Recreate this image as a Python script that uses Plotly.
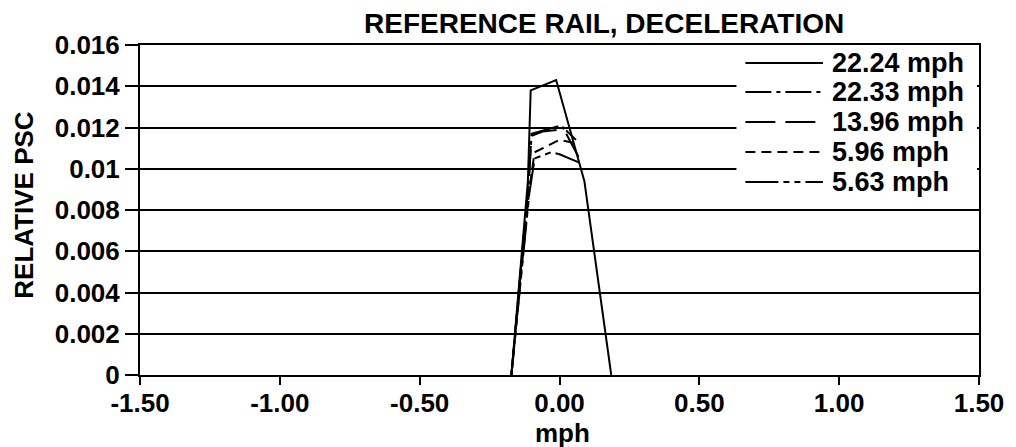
import plotly.graph_objects as go

# Relative PSC versus speed deviation (mph) for each test run
series_names = ["22.24 mph", "22.33 mph", "13.96 mph", "5.96 mph", "5.63 mph"]

x_2224 = [-0.172, -0.113, -0.103, -0.012, 0.089, 0.185]
y_2224 = [0.0, 0.0094, 0.0138, 0.0143, 0.0094, 0.0]

x_2233 = [-0.172, -0.110, -0.100, -0.060, 0.000, 0.012, 0.071]
y_2233 = [0.0, 0.0094, 0.0116, 0.0118, 0.0119, 0.0120, 0.0105]

x_1396 = [-0.172, -0.110, -0.100, -0.050, 0.005, 0.059]
y_1396 = [0.0, 0.0094, 0.0117, 0.0119, 0.0121, 0.0114]

x_596 = [-0.172, -0.108, -0.089, 0.000, 0.071]
y_596 = [0.0, 0.0090, 0.0108, 0.0114, 0.0112]

x_563 = [-0.172, -0.108, -0.089, -0.030, 0.000, 0.071]
y_563 = [0.0, 0.0088, 0.0105, 0.0108, 0.0107, 0.0103]

x_tick_vals = [-1.5, -1.0, -0.5, 0.0, 0.5, 1.0, 1.5]
x_tick_text = ["-1.50", "-1.00", "-0.50", "0.00", "0.50", "1.00", "1.50"]
y_tick_vals = [0, 0.002, 0.004, 0.006, 0.008, 0.010, 0.012, 0.014, 0.016]
y_tick_text = ["0", "0.002", "0.004", "0.006", "0.008", "0.01", "0.012", "0.014", "0.016"]

xs = [x_2224, x_2233, x_1396, x_596, x_563]
ys = [y_2224, y_2233, y_1396, y_596, y_563]
dashes = ["solid", "26px,5px,4px,5px", "30px,10px", "10px,6px", "33px,5px,6px,5px,6px,5px"]

FONT = "Liberation Sans, Arial, Helvetica, sans-serif"
W, H = 1016, 447
L, R, T, B = 140, 32, 45, 72
PW, PH = W - L - R, H - T - B


def px_x(p):
    return (p - L) / PW


def px_y(p):
    return (H - B - p) / PH


fig = go.Figure()
for name, xv, yv, d in zip(series_names, xs, ys, dashes):
    fig.add_trace(go.Scatter(x=xv, y=yv, mode="lines", name=name,
                             line=dict(color="black", width=2, dash=d)))

# Legend block in the upper right corner
shapes = [dict(type="rect", xref="paper", yref="paper",
               x0=px_x(740), x1=px_x(982), y0=px_y(198), y1=px_y(47),
               fillcolor="white", line=dict(width=0), layer="above")]
annotations = []
row_y = [63, 92, 122, 152, 182]
for name, d, ry in zip(series_names, dashes, row_y):
    shapes.append(dict(type="line", xref="paper", yref="paper",
                       x0=px_x(749), x1=px_x(827), y0=px_y(ry), y1=px_y(ry),
                       line=dict(color="black", width=2, dash=d), layer="above"))
    annotations.append(dict(text=name, xref="paper", yref="paper",
                            x=px_x(834), y=px_y(ry), xanchor="left", yanchor="middle",
                            showarrow=False,
                            font=dict(family=FONT, size=27, color="black", weight="bold")))

annotations.append(dict(text="REFERENCE RAIL, DECELERATION", xref="paper", yref="paper",
                        x=px_x(607), y=px_y(24), xanchor="center", yanchor="middle",
                        showarrow=False,
                        font=dict(family=FONT, size=28, color="black", weight="bold")))
annotations.append(dict(text="RELATIVE PSC", xref="paper", yref="paper",
                        x=px_x(23), y=px_y(205), xanchor="center", yanchor="middle",
                        textangle=-90, showarrow=False,
                        font=dict(family=FONT, size=26, color="black", weight="bold")))
annotations.append(dict(text="mph", xref="paper", yref="paper",
                        x=px_x(565), y=px_y(433), xanchor="center", yanchor="middle",
                        showarrow=False,
                        font=dict(family=FONT, size=26, color="black", weight="bold")))

fig.update_layout(
    width=W, height=H,
    margin=dict(l=L, r=R, t=T, b=B),
    plot_bgcolor="white", paper_bgcolor="white",
    showlegend=False,
    shapes=shapes, annotations=annotations,
    xaxis=dict(range=[-1.5, 1.5], tickvals=x_tick_vals, ticktext=x_tick_text,
               ticks="outside", ticklen=8, tickwidth=2, tickcolor="black",
               ticklabelstandoff=-4,
               showline=True, linecolor="black", linewidth=2, mirror=True,
               showgrid=False, zeroline=False,
               tickfont=dict(family=FONT, size=26, color="black", weight="bold")),
    yaxis=dict(range=[0, 0.016], tickvals=y_tick_vals, ticktext=y_tick_text,
               ticks="outside", ticklen=13, tickwidth=2, tickcolor="black",
               showline=True, linecolor="black", linewidth=2, mirror=True,
               showgrid=True, gridcolor="black", gridwidth=2, zeroline=False,
               tickfont=dict(family=FONT, size=26, color="black", weight="bold")),
)

fig.write_html("out.html")
